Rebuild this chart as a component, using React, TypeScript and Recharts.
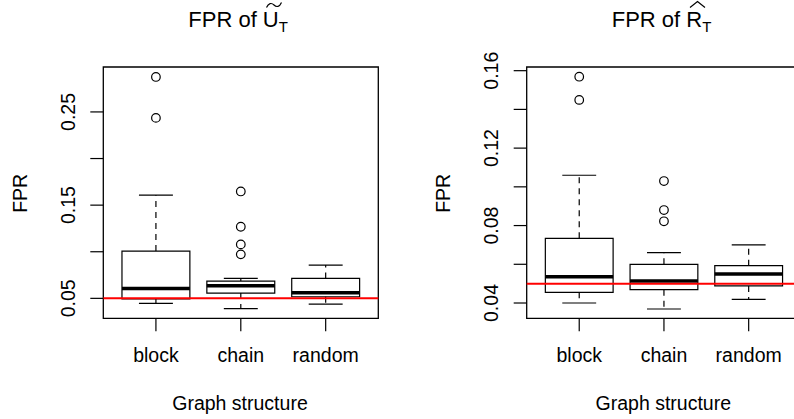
import { ComposedChart, XAxis, YAxis, ReferenceArea, ReferenceLine, Scatter } from 'recharts';

const FONT = '"Liberation Sans", Arial, Helvetica, sans-serif';

// shared categories and the reference FPR level
const categories = ['block', 'chain', 'random'];
const targetFpr = 0.05;
const xDomain = [0.38, 3.62];

// left panel: FPR of U~_T
const uTicks = [0.05, 0.1, 0.15, 0.2, 0.25];
const uTickLabels = [0.05, 0.15, 0.25];
const uDomain = [0.0286, 0.2982];
const uLower = [0.0446, 0.0389, 0.0439];
const uQ1 = [0.0493, 0.0557, 0.0517];
const uMedian = [0.0607, 0.0635, 0.056];
const uQ3 = [0.1007, 0.0685, 0.0714];
const uUpper = [0.1607, 0.0714, 0.0857];
const uOutliers = [[0.2875, 0.2436], [0.1647, 0.1268, 0.1079, 0.0972], []];

// right panel: FPR of R^_T
const rTicks = [0.04, 0.06, 0.08, 0.1, 0.12, 0.14, 0.16];
const rTickLabels = [0.04, 0.08, 0.12, 0.16];
const rDomain = [0.0321, 0.1619];
const rLower = [0.04, 0.0369, 0.0419];
const rQ1 = [0.0455, 0.0469, 0.0488];
const rMedian = [0.0536, 0.0514, 0.055];
const rQ3 = [0.0734, 0.06, 0.0593];
const rUpper = [0.106, 0.066, 0.07];
const rOutliers = [[0.1569, 0.1449], [0.103, 0.088, 0.0822], []];

const XTick = (props: any) => {
  const { x, y, payload } = props;
  return (
    <text x={x} y={y + 31} textAnchor="middle" fontSize={19.5} fontFamily={FONT} fill="#000">
      {categories[payload.value - 1]}
    </text>
  );
};

const makeYTick = (labels: number[]) => (props: any) => {
  const { x, y, payload } = props;
  if (!labels.some((v) => Math.abs(v - payload.value) < 1e-9)) return <g />;
  return (
    <text
      transform={`translate(${x - 15.5},${y}) rotate(-90)`}
      textAnchor="middle"
      fontSize={19.5}
      fontFamily={FONT}
      fill="#000"
    >
      {payload.value.toFixed(2)}
    </text>
  );
};

interface PanelProps {
  left: number;
  width: number;
  yAxisWidth: number;
  rightMargin: number;
  yDomain: number[];
  yTicks: number[];
  yLabels: number[];
  lower: number[];
  q1: number[];
  median: number[];
  q3: number[];
  upper: number[];
  outliers: number[][];
}

const BoxPanel = ({ left, width, yAxisWidth, rightMargin, yDomain, yTicks, yLabels, lower, q1, median, q3, upper, outliers }: PanelProps) => {
  const points = outliers.flatMap((vals, i) => vals.map((v) => ({ x: i + 1, y: v })));
  const line = { stroke: '#000', strokeWidth: 1.2 };
  return (
    <div style={{ position: 'absolute', left, top: 0 }}>
      <ComposedChart width={width} height={419} margin={{ top: 67, right: rightMargin, bottom: 0, left: 0 }}>
        <XAxis
          type="number"
          dataKey="x"
          domain={xDomain}
          ticks={[1, 2, 3]}
          allowDataOverflow
          interval={0}
          height={100.7}
          axisLine={false}
          tickLine={line}
          tickSize={13}
          tickMargin={0}
          tick={<XTick />}
        />
        <YAxis
          type="number"
          dataKey="y"
          domain={yDomain}
          ticks={yTicks}
          allowDataOverflow
          interval={0}
          width={yAxisWidth}
          axisLine={false}
          tickLine={line}
          tickSize={13}
          tickMargin={0}
          tick={makeYTick(yLabels)}
        />
        {/* plot frame */}
        <ReferenceArea x1={xDomain[0]} x2={xDomain[1]} y1={yDomain[0]} y2={yDomain[1]} fill="none" fillOpacity={0} stroke="#000" strokeWidth={1.3} ifOverflow="visible" />
        {categories.map((c, i) => {
          const cx = i + 1;
          return [
            <ReferenceLine key={c + 'wu'} segment={[{ x: cx, y: q3[i] }, { x: cx, y: upper[i] }]} {...line} strokeDasharray="6 5" />,
            <ReferenceLine key={c + 'wl'} segment={[{ x: cx, y: q1[i] }, { x: cx, y: lower[i] }]} {...line} strokeDasharray="6 5" />,
            <ReferenceLine key={c + 'cu'} segment={[{ x: cx - 0.2, y: upper[i] }, { x: cx + 0.2, y: upper[i] }]} {...line} />,
            <ReferenceLine key={c + 'cl'} segment={[{ x: cx - 0.2, y: lower[i] }, { x: cx + 0.2, y: lower[i] }]} {...line} />,
            <ReferenceArea key={c + 'box'} x1={cx - 0.4} x2={cx + 0.4} y1={q1[i]} y2={q3[i]} fill="#fff" fillOpacity={1} stroke="#000" strokeWidth={1.2} />,
            <ReferenceLine key={c + 'med'} segment={[{ x: cx - 0.4, y: median[i] }, { x: cx + 0.4, y: median[i] }]} stroke="#000" strokeWidth={3.5} />,
          ];
        })}
        <Scatter
          data={points}
          dataKey="y"
          isAnimationActive={false}
          shape={(p: any) => <circle cx={p.cx} cy={p.cy} r={4.3} fill="none" stroke="#000" strokeWidth={1.2} />}
        />
        <ReferenceLine y={targetFpr} stroke="#ff0000" strokeWidth={2} />
      </ComposedChart>
    </div>
  );
};

export default function App() {
  const textStyle = { fontFamily: FONT, fill: '#000' };
  return (
    <div style={{ position: 'absolute', left: 0, top: 0, width: 794, height: 419, overflow: 'hidden', background: '#fff' }}>
      <BoxPanel
        left={0}
        width={397}
        yAxisWidth={103.3}
        rightMargin={18.7}
        yDomain={uDomain}
        yTicks={uTicks}
        yLabels={uTickLabels}
        lower={uLower}
        q1={uQ1}
        median={uMedian}
        q3={uQ3}
        upper={uUpper}
        outliers={uOutliers}
      />
      <BoxPanel
        left={400}
        width={410}
        yAxisWidth={126.7}
        rightMargin={8.8}
        yDomain={rDomain}
        yTicks={rTicks}
        yLabels={rTickLabels}
        lower={rLower}
        q1={rQ1}
        median={rMedian}
        q3={rQ3}
        upper={rUpper}
        outliers={rOutliers}
      />
      <svg width={794} height={419} style={{ position: 'absolute', left: 0, top: 0, pointerEvents: 'none' }}>
        {/* titles */}
        <text x={188.3} y={27} fontSize={22} style={textStyle}>
          FPR of U<tspan fontSize={15} dy={5}>T</tspan>
        </text>
        <path d="M266.5,7.5 C268.5,3 271.5,2.5 274,5 C276.5,7.5 279.5,7 281.5,2.5" fill="none" stroke="#000" strokeWidth={1.2} />
        <text x={611.7} y={27} fontSize={22} style={textStyle}>
          FPR of R<tspan fontSize={15} dy={5}>T</tspan>
        </text>
        <path d="M690,7.5 L697.5,1.5 L705,7.5" fill="none" stroke="#000" strokeWidth={1.2} />
        {/* axis titles */}
        <text transform="translate(26.7,193.3) rotate(-90)" textAnchor="middle" fontSize={19.5} style={textStyle}>FPR</text>
        <text transform="translate(450,193.3) rotate(-90)" textAnchor="middle" fontSize={19.5} style={textStyle}>FPR</text>
        <text x={240} y={410} textAnchor="middle" fontSize={19.5} style={textStyle}>Graph structure</text>
        <text x={663.3} y={410} textAnchor="middle" fontSize={19.5} style={textStyle}>Graph structure</text>
      </svg>
    </div>
  );
}
